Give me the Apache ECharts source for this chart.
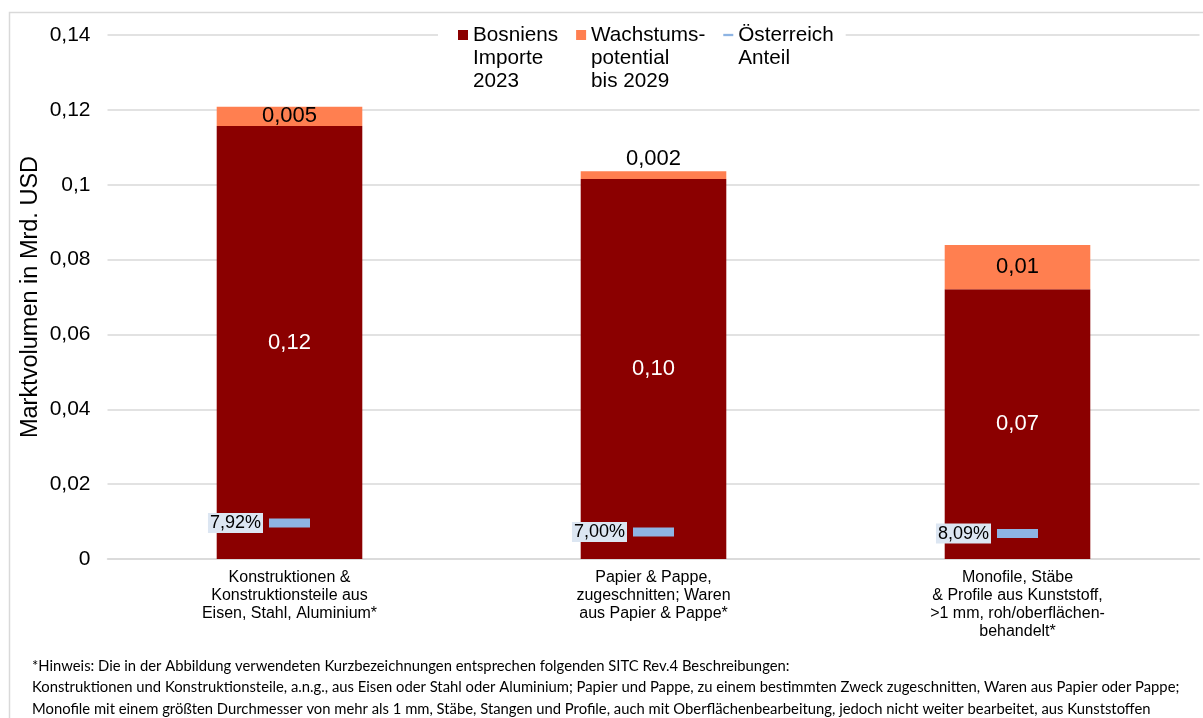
<!DOCTYPE html>
<html>
<head>
<meta charset="utf-8">
<script src="https://cdn.jsdelivr.net/npm/echarts@6/dist/echarts.min.js"></script>
<style>
html,body{margin:0;padding:0;background:#fff;overflow:hidden;}
#chart{width:1203px;height:768px;margin-top:-50px;}
</style>
</head>
<body>
<div id="chart"></div>
<script>
const categories = [
  'Konstruktionen &\nKonstruktionsteile aus\nEisen, Stahl, Aluminium*',
  'Papier & Pappe,\nzugeschnitten; Waren\naus Papier & Pappe*',
  'Monofile, Stäbe\n& Profile aus Kunststoff,\n>1 mm, roh/oberflächen-\nbehandelt*'
];
const imports2023 = [0.1157, 0.1015, 0.0721];
const growth2029 = [0.0051, 0.0021, 0.0118];
const growthLabels = ['0,005', '0,002', '0,01'];
const austriaMarker = [0.0096, 0.0072, 0.0068];
const austriaShare = [7.92, 7.00, 8.09];
const yTicks = { min: 0, max: 0.14, interval: 0.02 };
const footnote = [
  '*Hinweis: Die in der Abbildung verwendeten Kurzbezeichnungen entsprechen folgenden SITC Rev.4 Beschreibungen:',
  'Konstruktionen und Konstruktionsteile, a.n.g., aus Eisen oder Stahl oder Aluminium; Papier und Pappe, zu einem bestimmten Zweck zugeschnitten, Waren aus Papier oder Pappe;',
  'Monofile mit einem größten Durchmesser von mehr als 1 mm, Stäbe, Stangen und Profile, auch mit Oberflächenbearbeitung, jedoch nicht weiter bearbeitet, aus Kunststoffen'
];
const legendNames = ['Bosniens Importe 2023', 'Wachstumspotential bis 2029', 'Österreich Anteil'];
const legendTexts = ['Bosniens\nImporte\n2023', 'Wachstums-\npotential\nbis 2029', 'Österreich\nAnteil'];

const OFF = 50; // the canvas starts OFF px above the page top
const FONT = 'Liberation Sans, Arial, sans-serif';
const LH = 23;

const chart = echarts.init(document.getElementById('chart'), null, { renderer: 'canvas' });
chart.setOption({
  animation: false,
  backgroundColor: '#fff',
  textStyle: { fontFamily: FONT },
  grid: { left: 107.5, right: 3.5, top: 35 + OFF, bottom: 159, containLabel: false },
  legend: {
    left: 438,
    top: 35 + OFF - 2.5 * LH,
    padding: [0, 12, 0, 20],
    backgroundColor: '#fff',
    itemWidth: 10,
    itemHeight: 10,
    itemGap: 18,
    selectedMode: false,
    formatter: name => {
      const t = legendTexts[legendNames.indexOf(name)];
      const n = t.split('\n').length;
      return '\n'.repeat(n - 1) + t;
    },
    textStyle: { fontSize: 20.7, lineHeight: LH, color: '#000', fontFamily: FONT },
    data: legendNames.map((n, i) => ({
      name: n,
      icon: i === 2 ? 'path://M0,0 H13 V3 H0 Z' : 'rect'
    }))
  },
  xAxis: {
    type: 'category',
    data: categories,
    axisLine: { lineStyle: { color: '#d9d9d9', width: 1.5 } },
    axisTick: { show: false },
    axisLabel: { interval: 0, fontSize: 16, lineHeight: 18, color: '#000', margin: 10, fontFamily: FONT }
  },
  yAxis: {
    type: 'value',
    min: yTicks.min, max: yTicks.max, interval: yTicks.interval,
    name: 'Marktvolumen in Mrd. USD',
    nameLocation: 'middle',
    nameGap: 65,
    nameMoveOverlap: false,
    nameTextStyle: { fontSize: 23.5, color: '#000', fontFamily: FONT },
    axisLine: { show: false },
    axisTick: { show: false },
    splitLine: { lineStyle: { color: '#d9d9d9', width: 1.5 } },
    axisLabel: { fontSize: 21, color: '#000', margin: 17, fontFamily: FONT,
      formatter: v => String(parseFloat(v.toFixed(2))).replace('.', ',') }
  },
  series: [
    {
      name: legendNames[0], type: 'bar', stack: 'total', barWidth: '40%',
      itemStyle: { color: '#8B0000' },
      label: { show: true, position: 'inside', color: '#fff', fontSize: 22, fontFamily: FONT,
        formatter: p => p.value.toFixed(2).replace('.', ',') },
      data: imports2023
    },
    {
      name: legendNames[1], type: 'bar', stack: 'total', barWidth: '40%',
      itemStyle: { color: '#FF7F50' },
      label: { show: true, position: 'inside', color: '#000', fontSize: 22, fontFamily: FONT,
        formatter: p => growthLabels[p.dataIndex] },
      data: growth2029.map((v, i) => i === 1
        ? { value: v, label: { position: 'top', distance: 1 } }
        : v)
    },
    {
      name: legendNames[2], type: 'scatter', symbol: 'rect', symbolSize: [41, 9],
      itemStyle: { color: '#8EB4E3', opacity: 1 },
      z: 5,
      label: { show: true, position: 'left', distance: 6, color: '#000', fontSize: 18,
        fontFamily: FONT, backgroundColor: '#DCE6F2', padding: [2, 2, 0, 2],
        formatter: p => austriaShare[p.dataIndex].toFixed(2).replace('.', ',') + '%' },
      data: austriaMarker
    }
  ],
  graphic: [
    { type: 'rect', z: 100, silent: true,
      shape: { x: 9.5, y: 12.5 + OFF, width: 1300, height: 800 },
      style: { fill: 'none', stroke: '#d9d9d9', lineWidth: 1.5 } },
    { type: 'text', left: 32, top: 655 + OFF, z: 100,
      style: { text: footnote.join('\n'), font: '14.8px Lato, sans-serif',
        lineHeight: 21.5, fill: '#000' } }
  ]
});
</script>
</body>
</html>
